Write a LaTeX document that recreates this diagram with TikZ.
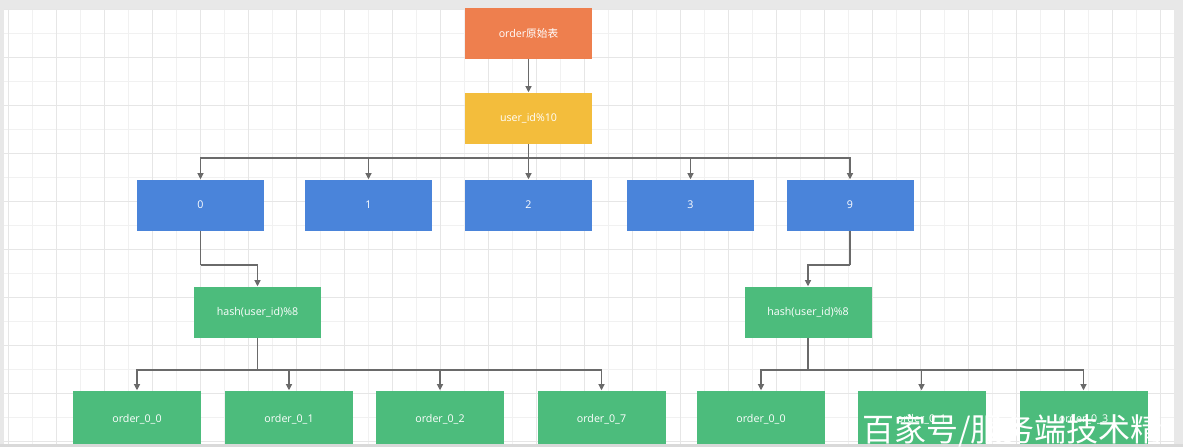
\documentclass[tikz,border=0pt]{standalone}
\usepackage{fontspec}
\setmainfont{Open Sans}
\newfontfamily\cjk{Noto Sans CJK SC}
\usetikzlibrary{arrows.meta}
\definecolor{cOrange}{HTML}{EE7F4E}
\definecolor{cYellow}{HTML}{F3BD3C}
\definecolor{cBlue}{HTML}{4A84DA}
\definecolor{cGreen}{HTML}{4CBC7C}
\definecolor{cLine}{HTML}{6A6A6A}
\definecolor{cGrid}{HTML}{E6E6E6}
\definecolor{cGridMinor}{HTML}{F1F1F1}
\tikzset{
  box/.style={rectangle, minimum width=127*0.75pt, minimum height=51*0.75pt, inner sep=0pt, text=white, font=\fontsize{8}{10}\selectfont},
  obox/.style={box, fill=cOrange},
  ybox/.style={box, fill=cYellow},
  bbox/.style={box, fill=cBlue},
  gbox/.style={box, fill=cGreen},
  lbox/.style={box, fill=cGreen, minimum width=128*0.75pt, minimum height=57*0.75pt},
  conn/.style={draw=cLine, line width=0.8pt, -{Triangle[length=4.5pt,width=4.5pt]}},
  seg/.style={draw=cLine, line width=0.8pt}
}
\begin{document}
\begin{tikzpicture}[x=0.75pt,y=-0.75pt]
\useasboundingbox (0,0) rectangle (1183,447);
\fill[gray!18] (0,0) rectangle (1183,447);
\fill[white] (4,9) rectangle (1174,447);
\begin{scope}
\clip (4,9) rectangle (1174,447);
\foreach \x in {32,80,...,1180} \draw[cGridMinor, line width=0.6pt] (\x,9) -- (\x,447);
\foreach \y in {33,81,...,447} \draw[cGridMinor, line width=0.6pt] (4,\y) -- (1174,\y);
\foreach \x in {8,56,...,1180} \draw[cGrid, line width=0.6pt] (\x,9) -- (\x,447);
\foreach \y in {9,57,...,447} \draw[cGrid, line width=0.6pt] (4,\y) -- (1174,\y);
\end{scope}

\node[obox] (src) at (528.5,33) {order{\cjk 原始表}};
\node[ybox] (mod) at (528.5,118) {user\_id\%10};

\node[bbox] (b0) at (200.5,205) {0};
\node[bbox] (b1) at (368.5,205) {1};
\node[bbox] (b2) at (528.5,205) {2};
\node[bbox] (b3) at (690.5,205) {3};
\node[bbox] (b9) at (850,205) {9};

\node[gbox] (h0) at (257.5,312) {hash(user\_id)\%8};
\node[gbox] (h9) at (808,312) {hash(user\_id)\%8};

\begin{scope}
\clip (0,0) rectangle (1183,444);
\node[lbox] (l0) at (137,419) {order\_0\_0};
\node[lbox] (l1) at (289,419) {order\_0\_1};
\node[lbox] (l2) at (440,419) {order\_0\_2};
\node[lbox] (l7) at (601.5,419) {order\_0\_7};
\node[lbox] (r0) at (761,419) {order\_0\_0};
\node[lbox] (r1) at (921.5,419) {order\_0\_1};
\node[lbox] (r3) at (1083.5,419) {order\_0\_3};
\end{scope}

\draw[conn] (src) -- (mod);

\coordinate (busA) at (528.5,158);
\draw[seg] (mod.south) -- (busA);
\foreach \n in {b0,b1,b2,b3,b9} \draw[conn] (busA) -| (\n.north);

\coordinate (k0) at (200.5,265);
\draw[seg] (b0.south) -- (k0);
\draw[conn] (k0) -| (h0.north);
\coordinate (k9) at (850,265);
\draw[seg] (b9.south) -- (k9);
\draw[conn] (k9) -| (h9.north);

\coordinate (busL) at (257.5,370);
\draw[seg] (h0.south) -- (busL);
\foreach \n in {l0,l1,l2,l7} \draw[conn] (busL) -| (\n.north);
\coordinate (busR) at (808,370);
\draw[seg] (h9.south) -- (busR);
\foreach \n in {r0,r1,r3} \draw[conn] (busR) -| (\n.north);

\fill[gray!30] (0,444) rectangle (1183,447);
\begin{scope}
\clip (0,0) rectangle (1172,447);
\node[anchor=base west, inner sep=0pt, text=white, font=\cjk\fontsize{24}{26}\selectfont] (wm) at (862,441) {百家号/服务端技术精};
\end{scope}
\end{tikzpicture}
\end{document}
